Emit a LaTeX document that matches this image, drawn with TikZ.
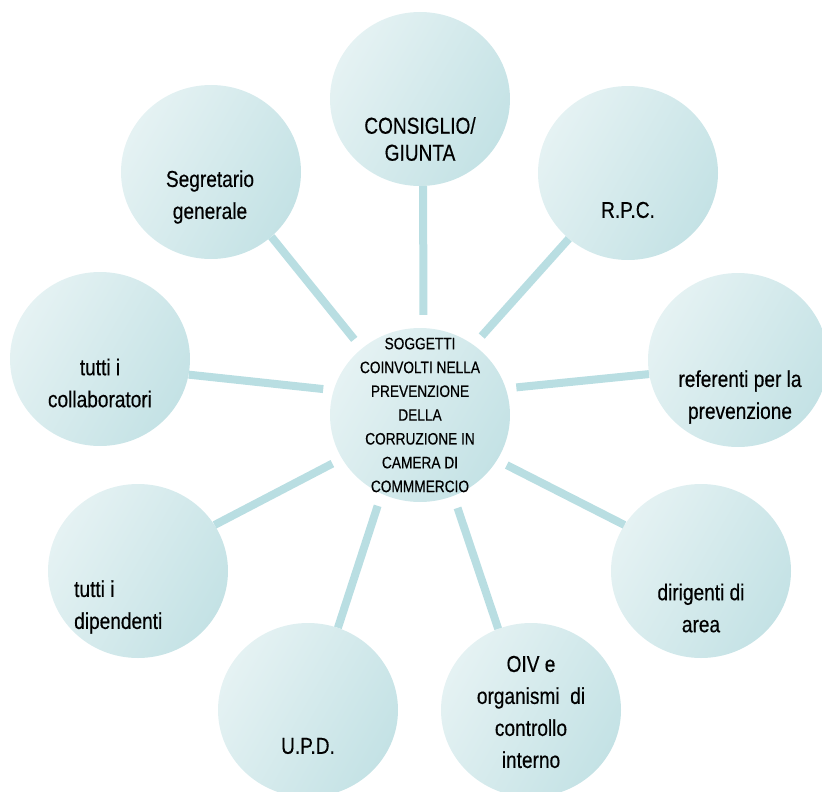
\documentclass[tikz,border=0pt]{standalone}
\usepackage{fontspec}
\setmainfont{Liberation Sans}[FakeStretch=0.83,FakeBold=0.4]
\usetikzlibrary{shapes.geometric}
\definecolor{bublight}{HTML}{E5F2F3}
\definecolor{bubdark}{HTML}{C4E2E5}
\definecolor{linkcol}{HTML}{B9DEE2}
\begin{document}
\begin{tikzpicture}[x=1pt,y=-1pt,
  bubble/.style={ellipse, minimum width=180pt, minimum height=174pt, inner sep=0pt,
    top color=bublight, bottom color=bubdark, shading angle=60, draw=none},
  link/.style={draw=linkcol, line width=8pt},
  bigtxt/.style={font=\fontsize{23}{32}\selectfont, align=center, inner sep=0pt, text=black},
  smalltxt/.style={font=\fontsize{16.5}{23.8}\selectfont, align=center, inner sep=0pt, text=black}]
\useasboundingbox (0,0) rectangle (822,792);
% ring that fixes the gap round the hub
\node[circle, minimum size=200pt, inner sep=0pt] (ring) at (420,415) {};
% bubbles
\node[bubble] (hub) at (420,415) {};
\node[bubble] (consiglio) at (420,99) {};
\node[bubble] (segretario) at (211,172) {};
\node[bubble] (rpc) at (628,173) {};
\node[bubble] (referenti) at (738,360) {};
\node[bubble] (dirigenti) at (701,571) {};
\node[bubble] (oiv) at (531,710) {};
\node[bubble] (upd) at (308,710) {};
\node[bubble] (dipendenti) at (138,571) {};
\node[bubble] (collab) at (100,359) {};
% connectors
\draw[link] (ring.88) -- (consiglio.-88);
\draw[link] (ring.131) -- (segretario.-47);
\draw[link] (ring.52) -- (rpc.-132);
\draw[link] (ring.16) -- (referenti.-171);
\draw[link] (ring.-30) -- (dirigenti.149);
\draw[link] (ring.-68) -- (oiv.112);
\draw[link] (ring.-115) -- (upd.70);
\draw[link] (ring.-151) -- (dipendenti.31);
\draw[link] (ring.165) -- (collab.-10);
% texts
\node[smalltxt] (thub) at (420,415) {SOGGETTI\\COINVOLTI NELLA\\PREVENZIONE\\DELLA\\CORRUZIONE IN\\CAMERA DI\\COMMMERCIO};
\node[bigtxt, font=\fontsize{23}{27}\selectfont] (tcons) at (420,139) {CONSIGLIO/\\GIUNTA};
\node[bigtxt] (tseg) at (210,197) {Segretario\\generale};
\node[bigtxt] (trpc) at (628,210) {R.P.C.};
\node[bigtxt] (tref) at (740,397) {referenti per la\\prevenzione};
\node[bigtxt] (tdir) at (701,608) {dirigenti di\\area};
\node[bigtxt] (toiv) at (531,712) {OIV e\\organismi~ di\\controllo\\interno};
\node[bigtxt] (tupd) at (308,746) {U.P.D.};
\node[bigtxt, align=left, anchor=west] (tdip) at (74,607) {tutti i\\dipendenti};
\node[bigtxt] (tcol) at (100,383) {tutti i\\collaboratori};
\end{tikzpicture}
\end{document}
